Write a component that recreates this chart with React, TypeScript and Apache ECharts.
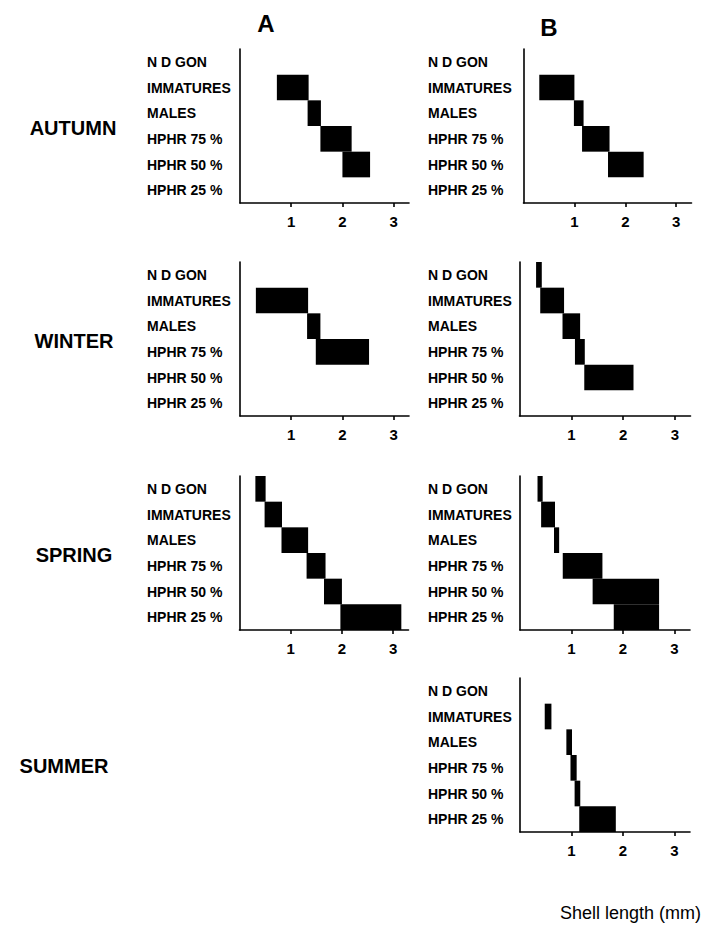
import React, { useEffect, useRef } from "react";
import * as echarts from "echarts";

const categories = ["N D GON", "IMMATURES", "MALES", "HPHR 75 %", "HPHR 50 %", "HPHR 25 %"];
const tickValues = [1, 2, 3];
const seasons = ["AUTUMN", "WINTER", "SPRING", "SUMMER"];
const columnTitles = ["A", "B"];
const xTitle = "Shell length (mm)";

// size ranges (mm) per maturity class: from / to
const autumnA_from = [null, 0.72, 1.32, 1.57, 2.0, null];
const autumnA_to = [null, 1.34, 1.58, 2.18, 2.54, null];
const autumnB_from = [null, 0.31, 0.99, 1.15, 1.66, null];
const autumnB_to = [null, 1.0, 1.18, 1.69, 2.36, null];
const winterA_from = [null, 0.31, 1.31, 1.48, null, null];
const winterA_to = [null, 1.33, 1.57, 2.52, null, null];
const winterB_from = [0.32, 0.4, 0.83, 1.07, 1.25, null];
const winterB_to = [0.43, 0.86, 1.17, 1.26, 2.2, null];
const springA_from = [0.31, 0.49, 0.82, 1.31, 1.65, 1.97];
const springA_to = [0.51, 0.83, 1.34, 1.68, 2.0, 3.16];
const springB_from = [0.34, 0.41, 0.66, 0.83, 1.41, 1.82];
const springB_to = [0.44, 0.68, 0.76, 1.6, 2.7, 2.7];
const summerB_from = [null, 0.48, 0.9, 0.98, 1.06, 1.15];
const summerB_to = [null, 0.61, 1.01, 1.1, 1.17, 1.86];

const FONT = '"Liberation Sans", Arial, Helvetica, sans-serif';
const GRID_H = 154;

const panels = [
  { from: autumnA_from, to: autumnA_to, left: 240, top: 49, width: 169, labelX: 147 },
  { from: autumnB_from, to: autumnB_to, left: 523.5, top: 49, width: 168, labelX: 428 },
  { from: winterA_from, to: winterA_to, left: 240, top: 262, width: 169, labelX: 147 },
  { from: winterB_from, to: winterB_to, left: 519.5, top: 262, width: 171, labelX: 428 },
  { from: springA_from, to: springA_to, left: 239.5, top: 476, width: 169, labelX: 147 },
  { from: springB_from, to: springB_to, left: 520, top: 476, width: 170, labelX: 428 },
  { from: summerB_from, to: summerB_to, left: 520, top: 678, width: 170, labelX: 428 },
];

const seasonX = [73, 74, 74, 64];
const seasonY = [128, 341, 555, 766];

export default function App() {
  const ref = useRef<HTMLDivElement>(null);
  useEffect(() => {
    if (!ref.current) return;
    const chart = echarts.init(ref.current, undefined, { renderer: "svg" });
    const axisLine = { show: true, onZero: false, lineStyle: { color: "#000", width: 1.6 } };
    const option: any = {
      animation: false,
      backgroundColor: "#fff",
      grid: panels.map((p) => ({ left: p.left, top: p.top, width: p.width, height: GRID_H })),
      xAxis: panels.map((p, i) => ({
        type: "value",
        gridIndex: i,
        min: 0,
        max: 3.3,
        axisLine,
        axisTick: { show: true, customValues: tickValues, length: 4, lineStyle: { color: "#000", width: 1.6 } },
        axisLabel: {
          customValues: tickValues,
          color: "#000",
          fontFamily: FONT,
          fontWeight: "bold",
          fontSize: 15,
          margin: 11,
        },
        splitLine: { show: false },
      })),
      yAxis: panels.map((p, i) => ({
        type: "category",
        gridIndex: i,
        data: categories,
        inverse: true,
        axisLine,
        axisTick: { show: false },
        axisLabel: {
          align: "left",
          margin: p.left - p.labelX,
          color: "#000",
          fontFamily: FONT,
          fontWeight: "bold",
          fontSize: 14,
          padding: [0, 0, 7, 0],
        },
        splitLine: { show: false },
      })),
      series: panels.flatMap((p, i) => [
        {
          type: "bar",
          xAxisIndex: i,
          yAxisIndex: i,
          stack: "s" + i,
          data: p.from,
          itemStyle: { color: "rgba(0,0,0,0)" },
          barCategoryGap: "0%",
          silent: true,
        },
        {
          type: "bar",
          xAxisIndex: i,
          yAxisIndex: i,
          stack: "s" + i,
          data: p.from.map((f, k) => (f == null || p.to[k] == null ? null : (p.to[k] as number) - f)),
          itemStyle: { color: "#000" },
          barCategoryGap: "0%",
        },
      ]),
      graphic: [
        {
          type: "text",
          x: 266,
          y: 23,
          style: { text: columnTitles[0], font: `bold 24px ${FONT}`, fill: "#000", textAlign: "center", textVerticalAlign: "middle" },
        },
        {
          type: "text",
          x: 549,
          y: 27,
          style: { text: columnTitles[1], font: `bold 24px ${FONT}`, fill: "#000", textAlign: "center", textVerticalAlign: "middle" },
        },
        ...seasons.map((s, i) => ({
          type: "text",
          x: seasonX[i],
          y: seasonY[i],
          style: { text: s, font: `bold 20px ${FONT}`, fill: "#000", textAlign: "center", textVerticalAlign: "middle" },
        })),
        {
          type: "text",
          x: 701,
          y: 913,
          style: { text: xTitle, font: `18px ${FONT}`, fill: "#000", textAlign: "right", textVerticalAlign: "middle" },
        },
      ],
    };
    chart.setOption(option);
    return () => chart.dispose();
  }, []);
  return <div ref={ref} style={{ position: "absolute", left: 0, top: 0, width: 705, height: 938 }} />;
}
